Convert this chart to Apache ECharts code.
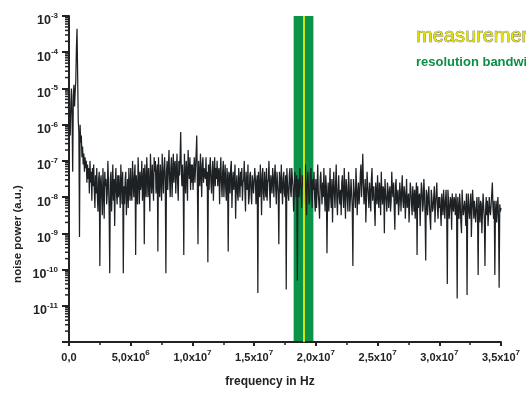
<!DOCTYPE html>
<html>
<head>
<meta charset="utf-8">
<script src="https://cdn.jsdelivr.net/npm/echarts@6/dist/echarts.min.js"></script>
<style>
html, body { margin: 0; padding: 0; background: #fff; }
#noiseSpectrum { width: 526px; height: 393px; }
</style>
</head>
<body>
<div id="noiseSpectrum"></div>
<script>
"use strict"

// 噪声功率谱：每个点是 log10(功率)，频率步长 5e4 Hz，每行 1e6 Hz
var stepHz = 5e4;
var powerExp = [
    -6.0, -5.6, -6.3, -5.4, -5.0, -5.8, -7.3, -5.2, -4.9, -5.5, -5.1, -4.8, -3.9, -3.35, -4.6, -5.9, -6.2, -9.1, -6.0, -6.5,
    -6.3, -6.9, -6.6, -7.1, -6.8, -7.3, -6.9, -7.2, -7.0, -7.6, -7.1, -7.5, -7.2, -7.9, -7.0, -7.6, -7.3, -8.1, -7.2, -7.7,
    -7.1, -7.8, -8.3, -7.4, -7.9, -7.2, -8.0, -8.4, -7.5, -7.3, -9.9, -7.6, -7.4, -8.0, -8.5, -7.2, -7.8, -8.6, -7.3, -7.7,
    -7.5, -8.2, -7.9, -7.0, -7.6, -8.3, -10.1, -7.5, -7.3, -8.4, -7.8, -7.1, -8.1, -7.5, -8.8, -7.6, -7.2, -7.9, -8.2, -7.4,
    -8.0, -7.4, -7.8, -8.3, -7.1, -7.6, -8.2, -7.3, -10.1, -7.7, -8.2, -7.5, -7.3, -8.5, -7.9, -7.5, -8.3, -7.2, -7.8, -8.1,
    -7.2, -7.9, -8.1, -7.0, -7.6, -8.0, -7.4, -7.1, -9.6, -7.4, -7.8, -8.2, -6.9, -7.5, -8.2, -7.3, -7.8, -7.6, -7.0, -8.1,
    -7.6, -7.2, -9.3, -7.1, -7.7, -8.0, -6.9, -7.4, -8.0, -7.2, -7.7, -8.4, -6.8, -7.5, -7.9, -7.1, -7.6, -8.1, -6.9, -7.3,
    -7.0, -7.9, -7.4, -7.1, -9.5, -6.9, -7.6, -8.0, -7.1, -7.5, -8.1, -6.8, -7.4, -7.9, -7.2, -6.9, -7.6, -10.1, -7.3, -7.0,
    -7.8, -7.2, -6.7, -7.5, -8.0, -7.2, -6.9, -8.0, -7.4, -6.8, -7.6, -7.1, -7.0, -7.9, -7.3, -6.8, -7.6, -8.1, -7.0, -7.4,
    -6.9, -6.2, -7.3, -7.7, -7.1, -7.5, -9.6, -6.8, -7.4, -7.9, -7.0, -7.3, -8.1, -6.7, -7.2, -7.5, -6.9, -7.8, -7.1, -7.6,
    -7.1, -7.8, -7.3, -6.9, -7.6, -7.2, -6.8, -6.3, -7.6, -9.3, -7.0, -7.4, -7.7, -6.8, -7.3, -8.0, -7.1, -6.9, -7.6, -7.2,
    -7.2, -7.5, -6.9, -7.7, -7.3, -9.8, -7.1, -7.8, -7.2, -6.9, -7.6, -7.9, -7.3, -7.0, -8.1, -7.4, -6.9, -7.7, -7.2, -7.5,
    -7.0, -7.7, -7.3, -7.2, -8.2, -7.4, -6.9, -7.6, -8.0, -7.3, -7.0, -8.0, -7.5, -7.1, -7.8, -8.1, -7.2, -7.5, -9.5, -7.3,
    -7.4, -7.9, -7.2, -7.0, -8.3, -7.6, -7.3, -7.8, -7.5, -7.1, -8.6, -7.7, -7.4, -7.9, -8.1, -7.2, -7.6, -8.0, -7.3, -7.7,
    -7.2, -8.1, -7.6, -7.5, -7.0, -7.8, -8.4, -7.3, -7.7, -7.8, -7.1, -8.2, -8.0, -7.4, -7.3, -7.9, -8.2, -7.4, -7.6, -7.9,
    -7.9, -7.2, -7.5, -8.2, -7.6, -7.4, -10.65, -7.3, -7.8, -8.0, -7.1, -7.6, -8.5, -7.4, -7.2, -7.9, -8.1, -7.3, -7.7, -8.0,
    -7.2, -8.1, -7.6, -7.5, -7.0, -7.8, -8.3, -7.4, -7.6, -7.9, -7.2, -7.5, -8.0, -7.4, -7.1, -7.8, -8.2, -7.3, -7.6, -7.9,
    -9.3, -7.3, -7.6, -7.9, -7.1, -7.7, -8.2, -7.5, -7.3, -7.9, -8.0, -7.4, -10.55, -7.2, -7.6, -7.9, -8.1, -7.4, -7.2, -7.8,
    -8.0, -7.2, -7.5, -7.7, -8.4, -7.9, -7.3, -7.6, -8.0, -7.4, -10.3, -7.5, -7.8, -8.0, -7.2, -7.6, -7.8, -8.3, -7.4, -7.7,
    -7.4, -8.2, -7.7, -7.1, -7.9, -8.5, -7.6, -7.3, -7.7, -8.2, -8.1, -7.4, -7.2, -7.8, -8.3, -7.5, -7.8, -7.3, -8.0, -8.4,
    -7.5, -8.3, -7.8, -7.1, -7.9, -8.2, -8.6, -7.5, -7.3, -7.8, -8.2, -7.6, -8.0, -7.2, -7.9, -8.4, -7.4, -7.7, -9.55, -8.0,
    -7.6, -8.4, -7.9, -7.2, -8.0, -8.3, -7.5, -8.7, -7.8, -7.3, -7.9, -8.3, -7.6, -7.1, -8.1, -8.5, -7.8, -7.4, -8.0, -8.2,
    -7.8, -8.5, -7.6, -7.4, -8.0, -8.3, -7.2, -7.9, -8.6, -7.5, -7.7, -8.1, -8.4, -7.3, -7.7, -8.4, -8.0, -7.5, -7.9, -8.3,
    -9.9, -7.5, -7.8, -8.0, -8.3, -7.2, -7.7, -8.5, -7.9, -7.6, -8.2, -7.9, -7.4, -7.1, -8.0, -7.5, -6.8, -7.6, -8.2, -7.9,
    -7.5, -8.7, -8.0, -7.3, -7.7, -8.0, -8.3, -7.6, -7.9, -8.4, -7.5, -7.2, -8.1, -7.8, -7.7, -8.3, -8.8, -7.6, -7.9, -8.2,
    -7.4, -8.0, -8.3, -7.6, -7.8, -8.5, -7.3, -7.9, -8.2, -7.7, -7.8, -9.0, -7.5, -7.9, -8.1, -8.4, -7.6, -7.8, -8.3, -7.9,
    -7.7, -8.4, -8.1, -7.3, -7.8, -8.0, -7.6, -8.3, -8.9, -7.7, -7.5, -8.2, -8.0, -7.8, -8.5, -8.2, -7.6, -7.9, -8.4, -7.8,
    -7.4, -8.1, -8.3, -7.7, -7.9, -8.6, -8.0, -7.5, -8.3, -8.1, -7.9, -8.7, -8.2, -7.6, -7.8, -8.2, -8.5, -7.7, -8.0, -8.4,
    -7.8, -8.6, -8.0, -7.6, -9.6, -7.7, -8.3, -8.0, -7.9, -8.8, -8.1, -7.6, -7.8, -8.4, -8.2, -7.5, -7.9, -8.5, -9.75, -7.8,
    -7.9, -8.5, -8.1, -7.7, -8.2, -8.6, -8.9, -7.8, -8.0, -8.4, -8.3, -8.0, -7.7, -8.7, -8.2, -7.9, -7.6, -8.3, -8.6, -8.0,
    -8.3, -8.0, -8.4, -8.8, -7.9, -8.2, -8.5, -7.8, -8.2, -8.6, -8.1, -7.8, -8.4, -10.4, -7.8, -8.1, -8.6, -8.3, -8.0, -8.1,
    -8.9, -7.9, -8.2, -8.4, -8.0, -8.1, -8.5, -7.9, -8.3, -10.8, -8.0, -8.4, -8.6, -7.9, -8.2, -8.7, -9.0, -7.8, -8.2, -8.5,
    -8.5, -8.1, -8.4, -8.8, -7.9, -10.7, -8.3, -7.9, -8.4, -8.6, -8.2, -7.9, -9.1, -8.3, -7.8, -8.2, -8.6, -8.1, -8.4, -8.7,
    -8.3, -8.0, -8.5, -10.15, -8.0, -8.3, -8.7, -8.1, -8.2, -9.0, -8.4, -7.9, -8.3, -8.6, -9.9, -8.4, -8.0, -8.5, -8.1, -8.8,
    -8.8, -8.0, -8.4, -8.5, -8.2, -7.9, -7.6, -8.3, -8.6, -8.1, -10.15, -8.4, -8.1, -8.7, -8.3, -8.0, -8.6, -10.5, -8.2, -8.4,
    -8.3
];
// 分辨率带宽（绿色）和测量频率（黄色）
var bandwidthHz = [1.82e7, 1.98e7];
var measureHz = 1.9e7;

var labelFont = "'Liberation Sans Narrow', 'Liberation Sans', sans-serif";
var nameFont = "'Liberation Sans', sans-serif";

showSpectrum();

function showSpectrum() {
    var myChart = echarts.init(document.getElementById("noiseSpectrum"));

    var lineData = powerExp.map(function (e, i) {
        return [i * stepHz, Math.pow(10, e)];
    });

    // 对数轴的次刻度 2..9 × 10^n
    var minorTicks = [];
    for (var n = -12; n < -3; n++) {
        for (var k = 2; k <= 9; k++) {
            minorTicks.push([0, k * Math.pow(10, n)]);
        }
    }

    function richStyles(size) {
        return {
            m: {
                fontSize: size,
                fontWeight: "bold",
                fontFamily: labelFont,
                color: "#222",
                lineHeight: size + 6
            },
            s: {
                fontSize: 8,
                fontWeight: "bold",
                fontFamily: labelFont,
                color: "#222",
                verticalAlign: "top",
                lineHeight: 8
            }
        };
    }

    var option = {
        animation: false,
        backgroundColor: "#fff",
        grid: {
            left: 69,
            right: 25,
            top: 16,
            bottom: 51
        },
        xAxis: {
            type: "value",
            min: 0,
            max: 3.5e7,
            interval: 5e6,
            splitLine: { show: false },
            axisLine: { lineStyle: { color: "#222", width: 2 } },
            axisTick: { length: 4, lineStyle: { color: "#222", width: 2 } },
            minorTick: { show: true, splitNumber: 2, length: 3, lineStyle: { color: "#222", width: 1.5 } },
            axisLabel: {
                margin: 7,
                formatter: function (v) {
                    if (v === 0) return "{m|0,0}";
                    var e = Math.floor(Math.log10(v) + 1e-9);
                    var m = (v / Math.pow(10, e)).toFixed(1).replace(".", ",");
                    return "{m|" + m + "x10}{s|" + e + "}";
                },
                rich: richStyles(11)
            }
        },
        yAxis: {
            type: "log",
            logBase: 10,
            min: 1e-12,
            max: 1e-3,
            interval: 1,
            splitLine: { show: false },
            axisLine: { lineStyle: { color: "#222", width: 2 } },
            axisTick: { length: 7, lineStyle: { color: "#222", width: 2 } },
            axisLabel: {
                margin: 11,
                padding: [10, 0, 0, 0],
                formatter: function (v) {
                    var e = Math.round(Math.log10(v));
                    if (e <= -12) return "";
                    return "{m|10}{s|" + e + "}";
                },
                rich: richStyles(12.5)
            }
        },
        series: [{
            // 绿色带宽区域（画在曲线下面）
            type: "custom",
            silent: true,
            z: 0,
            data: [bandwidthHz],
            renderItem: function (params, api) {
                var p0 = api.coord([api.value(0), 1e-3]);
                var p1 = api.coord([api.value(1), 1e-12]);
                return {
                    type: "rect",
                    shape: { x: p0[0], y: p0[1], width: p1[0] - p0[0], height: p1[1] - p0[1] },
                    style: { fill: "#0a9448" }
                };
            }
        }, {
            type: "line",
            data: lineData,
            z: 5,
            showSymbol: false,
            lineStyle: { color: "#1d2124", width: 1.25 }
        }, {
            // 黄色测量线
            type: "line",
            data: [],
            z: 8,
            markLine: {
                silent: true,
                symbol: "none",
                z: 8,
                label: { show: false },
                lineStyle: { color: "#f2f200", width: 2, type: "solid", opacity: 0.85 },
                data: [{ xAxis: measureHz }]
            }
        }, {
            type: "custom",
            silent: true,
            clip: false,
            z: 9,
            data: minorTicks,
            encode: { x: 0, y: 1 },
            renderItem: function (params, api) {
                var p = api.coord([0, api.value(1)]);
                return {
                    type: "line",
                    shape: { x1: p[0] - 4, y1: p[1], x2: p[0], y2: p[1] },
                    style: { stroke: "#222", lineWidth: 1.5 }
                };
            }
        }],
        graphic: [{
            type: "text",
            x: 18,
            y: 234,
            rotation: Math.PI / 2,
            style: {
                text: "noise power (a.u.)",
                font: "bold 11.5px " + nameFont,
                fill: "#222",
                align: "center",
                verticalAlign: "middle"
            }
        }, {
            type: "text",
            x: 270,
            y: 382,
            style: {
                text: "frequency in Hz",
                font: "bold 12px " + nameFont,
                fill: "#222",
                align: "center",
                verticalAlign: "middle"
            }
        }, {
            type: "text",
            x: 416,
            y: 36,
            style: {
                text: "measurement",
                font: "20px " + nameFont,
                fill: "#e2e200",
                stroke: "#555",
                lineWidth: 0.6,
                align: "left",
                verticalAlign: "middle"
            }
        }, {
            type: "text",
            x: 416,
            y: 62,
            style: {
                text: "resolution bandwidth",
                font: "bold 13px " + nameFont,
                fill: "#0b8f44",
                align: "left",
                verticalAlign: "middle"
            }
        }]
    };

    option && myChart.setOption(option);
}
</script>
</body>
</html>
